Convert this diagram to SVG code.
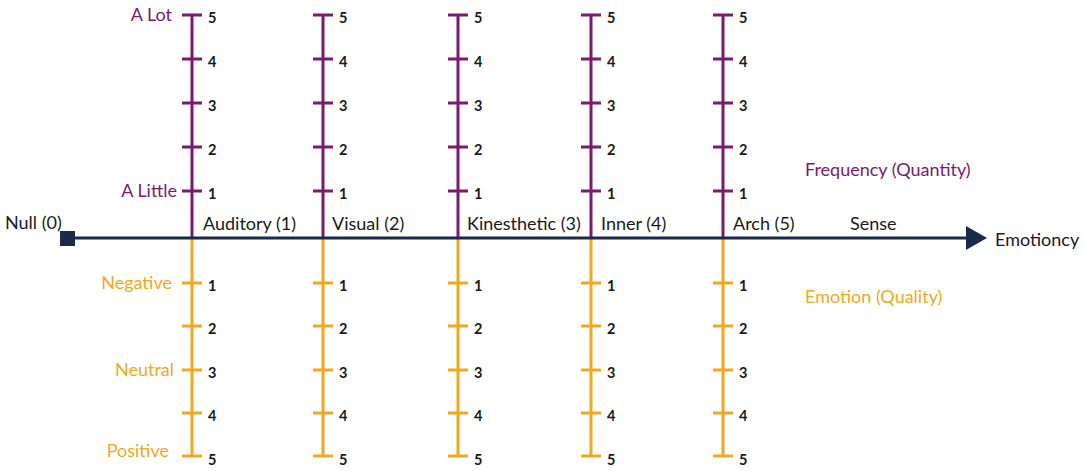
<svg xmlns="http://www.w3.org/2000/svg" width="1084" height="471" viewBox="0 0 1084 471">
<style>
text{font-family:Lato,"Open Sans","Liberation Sans",sans-serif}
.p{stroke:#7b1a6f;stroke-width:3;fill:none}
.o{stroke:#f2a81d;stroke-width:3;fill:none}
.num{font-size:14.5px;font-weight:bold;fill:#1a1a1a;dominant-baseline:central}
.lbl{font-size:18px;fill:#1a1a1a}
.pt{font-size:18px;fill:#7b1a6f}
.ot{font-size:18px;fill:#f2a81d}
.ax{stroke:#1b2a4a;stroke-width:3;fill:none}
</style>
<defs>
<g id="up">
<path class="p" d="M0,238V15M-10,15H10M-10,59H10M-10,103H10M-10,147H10M-10,191H10"/>
<text class="num" x="16" y="17">5</text>
<text class="num" x="16" y="61">4</text>
<text class="num" x="16" y="105">3</text>
<text class="num" x="16" y="149">2</text>
<text class="num" x="16" y="193">1</text>
</g>
<g id="down">
<path class="o" d="M0,239V456M-10,456H10M-10,283H10M-10,326H10M-10,370H10M-10,413H10"/>
<text class="num" x="16" y="285">1</text>
<text class="num" x="16" y="328">2</text>
<text class="num" x="16" y="372">3</text>
<text class="num" x="16" y="415">4</text>
<text class="num" x="16" y="459">5</text>
</g>
</defs>
<g id="scales">
<g id="col1"><use href="#up" x="192"/><use href="#down" x="192"/></g>
<g id="col2"><use href="#up" x="323"/><use href="#down" x="323"/></g>
<g id="col3"><use href="#up" x="458"/><use href="#down" x="458"/></g>
<g id="col4"><use href="#up" x="591"/><use href="#down" x="591"/></g>
<g id="col5"><use href="#up" x="723"/><use href="#down" x="723"/></g>
</g>
<g id="connectors">
<line class="ax" x1="74" y1="238" x2="968" y2="238"/>
<polygon points="966,226 987,238 966,250" fill="#1b2a4a"/>
<rect x="60" y="231" width="15" height="15" fill="#1b2a4a"/>
</g>
<g id="labels">
<text class="lbl" x="5" y="229">Null (0)</text>
<text class="lbl" x="203" y="230">Auditory (1)</text>
<text class="lbl" x="332" y="230">Visual (2)</text>
<text class="lbl" x="467" y="230">Kinesthetic (3)</text>
<text class="lbl" x="601" y="230">Inner (4)</text>
<text class="lbl" x="733" y="230">Arch (5)</text>
<text class="lbl" x="850" y="230">Sense</text>
<text class="lbl" x="995" y="246">Emotioncy</text>
<text class="pt" x="172" y="21" text-anchor="end">A Lot</text>
<text class="pt" x="177" y="197" text-anchor="end">A Little</text>
<text class="pt" x="805" y="176">Frequency (Quantity)</text>
<text class="ot" x="172" y="289" text-anchor="end">Negative</text>
<text class="ot" x="174" y="376" text-anchor="end">Neutral</text>
<text class="ot" x="169" y="457" text-anchor="end">Positive</text>
<text class="ot" x="805" y="303">Emotion (Quality)</text>
</g>
</svg>
